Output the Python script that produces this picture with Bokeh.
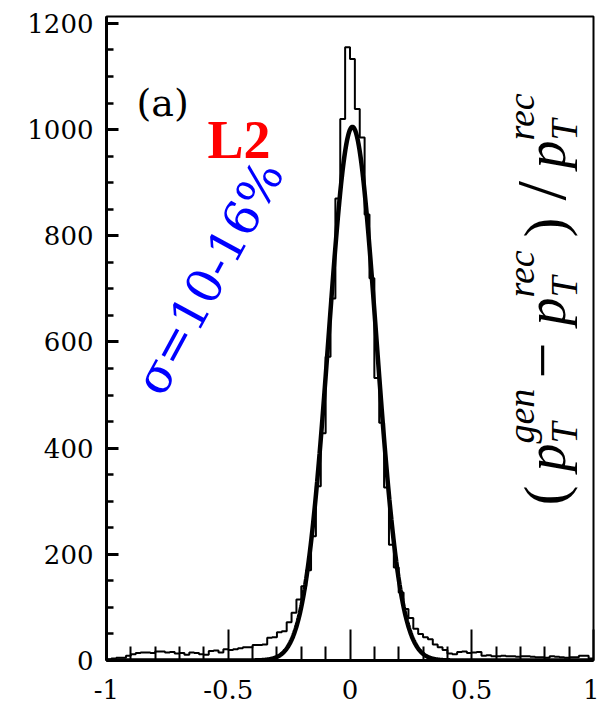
import numpy as np
from bokeh.plotting import figure
from bokeh.models import Range1d, FixedTicker, Label
from bokeh.embed import file_html
from bokeh.resources import INLINE

# ---------------- data ----------------
BIN_LO = -1.0
BIN_WIDTH = 0.02
COUNTS = [
    # -1.00 .. -0.50
    2, 4, 5, 5, 9, 12, 14, 15, 15, 14, 17, 17, 15, 16, 13, 14, 11, 15, 14, 12, 11, 18, 19, 15, 21,
    # -0.50 .. -0.20
    20, 21, 23, 25, 25, 29, 29, 30, 43, 44, 53, 55, 72, 90, 115,
    # -0.20 .. 0.20
    140, 170, 234, 328, 428, 572, 682, 870, 1020, 1155, 1133, 1039, 985, 840, 720, 532, 448, 326, 218, 175,
    # 0.20 .. 1.00
    128, 97, 80, 60, 50, 44, 40, 30, 25, 20, 13, 12, 16, 17, 14, 15, 16, 9, 10, 8,
    8, 9, 8, 8, 7, 8, 8, 7, 6, 6, 5, 8, 7, 6, 5, 6, 6, 9, 9, 4,
]
FIT_AMP = 1005.0
FIT_MEAN = 0.01
FIT_SIGMA = 0.098

X_TICKS = [-1, -0.5, 0, 0.5, 1]
X_TICK_LABELS = ["-1", "-0.5", "0", "0.5", "1"]
X_MINOR = [-0.9, -0.8, -0.7, -0.6, -0.4, -0.3, -0.2, -0.1, 0.1, 0.2, 0.3, 0.4, 0.6, 0.7, 0.8, 0.9]
Y_TICKS = [0, 200, 400, 600, 800, 1000, 1200]
Y_MINOR = [v for v in range(50, 1250, 50) if v % 200 != 0]

# ---------------- figure ----------------
FL, FT, FR, FB = 106, 16, 593, 660   # frame edges in window pixels
p = figure(width=599, height=709, output_backend="svg", toolbar_location=None,
           x_range=Range1d(-1, 1), y_range=Range1d(0, 1213),
           min_border_left=FL, min_border_right=599 - FR,
           min_border_top=FT, min_border_bottom=709 - FB)
p.xgrid.visible = False
p.ygrid.visible = False
p.outline_line_color = "black"
p.outline_line_width = 2
p.background_fill_color = "white"
p.border_fill_color = "white"

SERIF = "DejaVu Serif"

xa = p.xaxis[0]
xa.ticker = FixedTicker(ticks=X_TICKS, minor_ticks=X_MINOR)
xa.major_label_overrides = {t: s for t, s in zip(X_TICKS, X_TICK_LABELS)}
xa.axis_line_width = 3
xa.major_tick_in = 31
xa.major_tick_out = 0
xa.minor_tick_in = 14
xa.minor_tick_out = 0
xa.major_tick_line_width = 2
xa.minor_tick_line_width = 2
xa.major_label_text_font = SERIF
xa.major_label_text_font_size = "26px"
xa.major_label_standoff = 19
xa.major_label_text_color = "black"

ya = p.yaxis[0]
ya.ticker = FixedTicker(ticks=Y_TICKS, minor_ticks=Y_MINOR)
ya.axis_line_width = 3
ya.major_tick_in = 12
ya.major_tick_out = 0
ya.minor_tick_in = 7
ya.minor_tick_out = 0
ya.major_tick_line_width = 3
ya.minor_tick_line_width = 2.5
ya.major_label_text_font = SERIF
ya.major_label_text_font_size = "26px"
ya.major_label_standoff = 13
ya.major_label_text_color = "black"

# histogram outline (step)
edges = [round(BIN_LO + i * BIN_WIDTH, 4) for i in range(len(COUNTS) + 1)]
p.step(x=edges, y=COUNTS + [COUNTS[-1]], mode="after", line_color="black", line_width=2)

# gaussian fit
xs = np.linspace(-1, 1, 1201)
ys = FIT_AMP * np.exp(-0.5 * ((xs - FIT_MEAN) / FIT_SIGMA) ** 2)
p.line(xs, ys, line_color="black", line_width=4.5)

SHIFT = 0.35   # renderer places the baseline this many em below the anchor


def lab(text, X, Y, size, font=SERIF, color="black", style="normal", angle=0.0):
    """place text so that its baseline starts at window pixel (X, Y)"""
    X2 = X - SHIFT * size * np.sin(angle)
    Y2 = Y - SHIFT * size * np.cos(angle)
    p.add_layout(Label(x=X2 - FL, y=FB - Y2, x_units="screen", y_units="screen",
                       text=text, text_font=font, text_font_size=f"{size}px",
                       text_font_style=style, text_color=color, angle=angle,
                       text_align="left", text_baseline="alphabetic"))


lab("(a)", 136, 116, 38)
lab("L2", 207, 158, 54, font="Liberation Serif", color="#ff0000", style="bold")
lab("σ=10-16%", 162, 398, 48, color="#0000ff", angle=np.deg2rad(61.5))

# right-hand label  (p_T^gen - p_T^rec)/p_T^rec, rotated 90 deg
BX = 565          # baseline x of rotated label
TF = "Liberation Serif"
A = np.pi / 2
pieces = [
    ("(", 505, 0, 60, "normal"),
    ("p", 471, 0, 56, "italic"),
    ("T", 443, 12, 38, "italic"),
    ("gen", 443, -31, 38, "italic"),
    ("−", 378, 0, 64, "normal"),
    ("p", 325, 0, 56, "italic"),
    ("T", 297, 12, 38, "italic"),
    ("rec", 297, -31, 38, "italic"),
    (")", 237, 0, 60, "normal"),
    ("/", 200, 0, 70, "normal"),
    ("p", 168, 0, 56, "italic"),
    ("T", 140, 12, 38, "italic"),
    ("rec", 140, -31, 38, "italic"),
]
for t, Y, dx, s, st in pieces:
    lab(t, BX + dx, Y, s, font=TF, style=st, angle=A)

open("out.html", "w").write(file_html(p, INLINE))
